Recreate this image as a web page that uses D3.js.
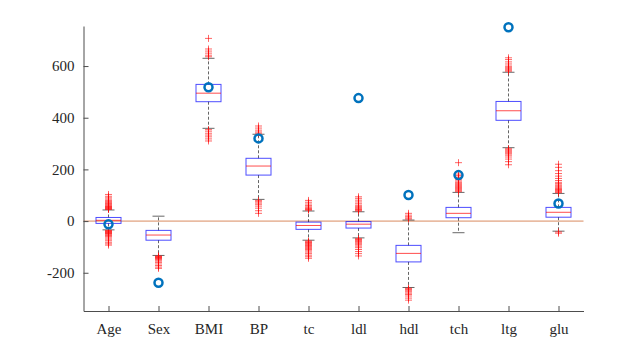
<!DOCTYPE html>
<html>
<head>
<meta charset="utf-8">
<script src="https://cdn.jsdelivr.net/npm/d3@7.9.0/dist/d3.min.js"></script>
<style>
  body { margin: 0; background: #fff; }
</style>
</head>
<body>
<svg id="chart" width="644" height="350"></svg>
<script>
// variable names along x
const names = ['Age', 'Sex', 'BMI', 'BP', 'tc', 'ldl', 'hdl', 'tch', 'ltg', 'glu'];

// box statistics
const q1     = [-9, -74, 462, 178, -32, -27, -158, 13, 390, 15];
const median = [3, -54, 495, 213, -17, -12, -125, 30, 427, 34];
const q3     = [14, -36, 529, 243, -4, -2, -94, 53, 463, 53];
const lowCap = [-34, -133, 359, 84, -74, -65, -257, -45, 284, -39];
const upCap  = [43, 19, 630, 336, 39, 36, 4, 111, 576, 107];

// outliers (red +)
const outliers = [
  [45, 47, 49, 51, 53, 55, 57, 59, 62, 65, 68, 72, 76, 80, 85, 90, 96, 103,
   -36, -38, -40, -42, -44, -46, -48, -50, -53, -56, -60, -65, -70, -76, -82, -88, -93],
  [-135, -137, -139, -141, -143, -145, -148, -151, -155, -160, -166, -172, -178, -183],
  [636, 642, 650, 658, 666, 707, 354, 348, 340, 333, 326, 318, 310],
  [340, 345, 352, 360, 368, 80, 75, 70, 65, 58, 50, 40, 30],
  [42, 45, 48, 51, 55, 60, 66, 73, 80,
   -77, -80, -83, -86, -89, -92, -95, -98, -102, -106, -110, -115, -120, -126, -132, -138, -144],
  [39, 42, 45, 48, 52, 56, 61, 67, 74, 81, 88, 94,
   -68, -71, -74, -77, -80, -84, -88, -92, -97, -103, -110, -118, -126, -135],
  [8, 12, 17, 23, 30, -260, -263, -266, -270, -274, -279, -284, -290, -298, -306],
  [114, 118, 122, 126, 130, 134, 138, 142, 146, 150, 155, 160, 165, 170, 176, 182, 226],
  [580, 584, 588, 592, 596, 600, 608, 616, 625, 632,
   280, 276, 272, 268, 264, 260, 255, 248, 240, 230, 218],
  [110, 113, 116, 119, 122, 125, 128, 132, 136, 140, 145, 150, 157, 165, 174, 184, 195, 208, 220, -42, -47]
];

// blue circles (one per variable, tc has none visible)
const circleVars = ['Age', 'Sex', 'BMI', 'BP', 'ldl', 'hdl', 'tch', 'ltg', 'glu'];
const circleVals = [-12, -239, 518, 320, 476, 101, 178, 750, 68];

const yTicks = [-200, 0, 200, 400, 600];

const svg = d3.select('#chart');
const plotLeft = 83.5, plotRight = 583.5, plotTop = 26, plotBottom = 311;
const serif = 'Liberation Serif';

const x = d3.scaleLinear().domain([0.5, names.length + 0.5]).range([plotLeft, plotRight]);
const y = d3.scaleLinear().domain([-348, 755]).range([plotBottom, plotTop]);
const xPos = (name) => x(names.indexOf(name) + 1);

// zero reference line
svg.append('line')
  .attr('x1', plotLeft).attr('x2', plotRight)
  .attr('y1', y(0)).attr('y2', y(0))
  .attr('stroke', '#d98b5f').attr('stroke-width', 1);

// axes
const yAxis = d3.axisLeft(y).tickValues(yTicks).tickFormat((d) => String(d))
  .tickSizeInner(-5).tickSizeOuter(0).tickPadding(9);
const gy = svg.append('g').attr('transform', `translate(${plotLeft},0)`).call(yAxis)
  .attr('font-family', serif).attr('font-size', 15);
gy.select('.domain').attr('stroke', '#4d4d4d');
gy.selectAll('.tick line').attr('stroke', '#4d4d4d');
gy.selectAll('.tick text').attr('fill', '#262626');

const xAxis = d3.axisBottom(x).tickValues(d3.range(1, names.length + 1))
  .tickFormat((d) => names[d - 1]).tickSizeInner(-5).tickSizeOuter(0).tickPadding(12);
const gx = svg.append('g').attr('transform', `translate(0,${plotBottom})`).call(xAxis)
  .attr('font-family', serif).attr('font-size', 15);
gx.select('.domain').attr('stroke', '#4d4d4d');
gx.selectAll('.tick line').attr('stroke', '#4d4d4d');
gx.selectAll('.tick text').attr('fill', '#262626');

const boxW = 25, capW = 12;

names.forEach((name, i) => {
  const cx = x(i + 1);
  const g = svg.append('g');
  // whiskers
  g.append('line').attr('x1', cx).attr('x2', cx).attr('y1', y(q3[i])).attr('y2', y(upCap[i]))
    .attr('stroke', '#000').attr('stroke-opacity', 0.6).attr('stroke-dasharray', '3,2');
  g.append('line').attr('x1', cx).attr('x2', cx).attr('y1', y(q1[i])).attr('y2', y(lowCap[i]))
    .attr('stroke', '#000').attr('stroke-opacity', 0.6).attr('stroke-dasharray', '3,2');
  // caps
  [upCap[i], lowCap[i]].forEach((v) => {
    g.append('line').attr('x1', cx - capW / 2).attr('x2', cx + capW / 2).attr('y1', y(v)).attr('y2', y(v))
      .attr('stroke', '#000').attr('stroke-opacity', 0.6);
  });
  // box
  g.append('rect').attr('x', cx - boxW / 2).attr('width', boxW)
    .attr('y', y(q3[i])).attr('height', y(q1[i]) - y(q3[i]))
    .attr('fill', 'none').attr('stroke', '#0000ff').attr('stroke-opacity', 0.7);
  // median
  g.append('line').attr('x1', cx - boxW / 2).attr('x2', cx + boxW / 2)
    .attr('y1', y(median[i])).attr('y2', y(median[i]))
    .attr('stroke', '#ff0000').attr('stroke-opacity', 0.7);
  // outliers
  outliers[i].forEach((v) => {
    const py = y(v);
    g.append('path').attr('d', `M${cx - 3.5},${py}H${cx + 3.5}M${cx},${py - 3.5}V${py + 3.5}`)
      .attr('stroke', '#ff0000').attr('stroke-opacity', 0.6).attr('fill', 'none');
  });
});

// blue circles
circleVars.forEach((name, i) => {
  svg.append('circle').attr('cx', xPos(name)).attr('cy', y(circleVals[i])).attr('r', 4)
    .attr('fill', 'none').attr('stroke', '#0072BD').attr('stroke-width', 2.5);
});
</script>
</body>
</html>
